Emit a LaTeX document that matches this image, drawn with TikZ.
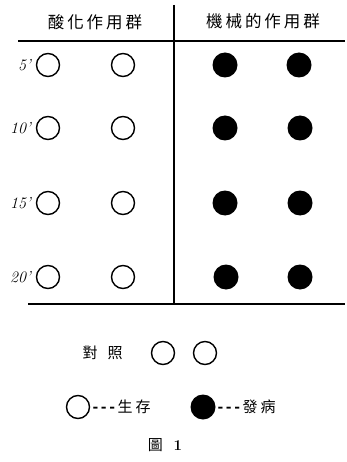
\documentclass[tikz,border=0pt]{standalone}
\usepackage{fontspec}
\newfontfamily\cjk[LetterSpace=18]{Noto Sans CJK TC}
\tikzset{
  alive/.style={circle,draw,line width=1.4pt,minimum size=23pt,inner sep=0pt},
  sick/.style={circle,fill,minimum size=25pt,inner sep=0pt},
  tmin/.style={anchor=east,inner sep=0pt,font=\fontsize{16}{16}\selectfont\itshape},
  head/.style={font=\cjk\fontsize{16.5}{16.5}\selectfont},
  legend/.style={font=\cjk\fontsize{15}{15}\selectfont,anchor=west}
}
\begin{document}
\begin{tikzpicture}[x=1pt,y=-1pt]
\useasboundingbox (0,0) rectangle (347,462);
% table frame
\draw[line width=1.6pt] (18,41) -- (345,41);
\draw[line width=1.6pt] (28,304) -- (345,304);
\draw[line width=1.6pt] (174,5) -- (174,304);
\node[head] (hOx) at (95,22) {酸化作用群};
\node[head] (hMe) at (263,21) {機械的作用群};
% rows
\node[tmin] (t5) at (31,65) {5'};
\node[alive] (a5) at (48,65) {};
\node[alive] (b5) at (123,65) {};
\node[sick] (c5) at (225,65) {};
\node[sick] (d5) at (299,65) {};
\node[tmin] (t10) at (31,128) {10'};
\node[alive] (a10) at (48,128) {};
\node[alive] (b10) at (123,128) {};
\node[sick] (c10) at (225,128) {};
\node[sick] (d10) at (300,128) {};
\node[tmin] (t15) at (31,203) {15'};
\node[alive] (a15) at (48,203) {};
\node[alive] (b15) at (123,203) {};
\node[sick] (c15) at (225,203) {};
\node[sick] (d15) at (300,203) {};
\node[tmin] (t20) at (31,277) {20'};
\node[alive] (a20) at (48,277) {};
\node[alive] (b20) at (123,277) {};
\node[sick] (c20) at (226,277) {};
\node[sick] (d20) at (300,277) {};
% control
\node[legend] (ctl) at (79,353) {對\hspace{10pt}照};
\node[alive] (ctl1) at (163,353) {};
\node[alive] (ctl2) at (205,353) {};
% legend
\node[alive] (kAlive) at (78,407) {};
\node[legend] (tAlive) at (89,407) {{\bfseries -{}-{}-}\,生\hspace{3pt}存};
\node[sick] (kSick) at (203,407) {};
\node[legend] (tSick) at (214,407) {{\bfseries -{}-{}-}\,發\hspace{3pt}病};
\node[font=\cjk\fontsize{15}{15}\selectfont] (cap) at (165,445) {圖\hspace{8pt}\textbf{\rmfamily 1}};
\end{tikzpicture}
\end{document}
